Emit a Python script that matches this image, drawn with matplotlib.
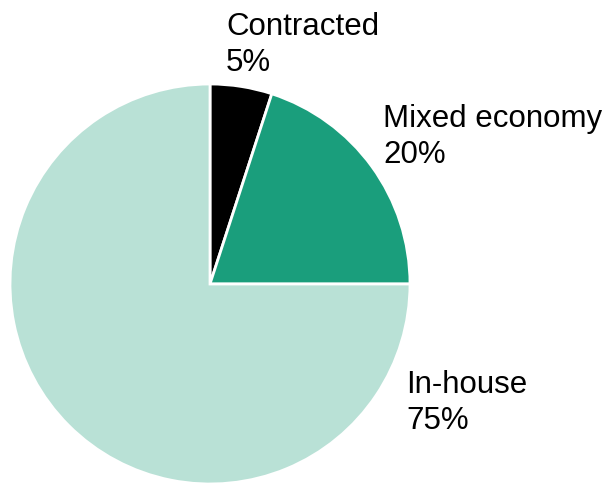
import matplotlib
matplotlib.use("Agg")
import matplotlib.pyplot as plt

categories = ["Contracted", "Mixed economy", "In-house"]
shares = [5, 20, 75]
colors = ["#000000", "#1a9e7c", "#b9e1d6"]

plt.rcParams["font.family"] = ["Liberation Sans", "DejaVu Sans"]

W, H = 608, 485
fig = plt.figure(figsize=(W / 100, H / 100), dpi=100)
ax = fig.add_axes([0, 0, 1, 1])

cx, cy, r = 210, H - 285, 200
ax.pie(shares, colors=colors, startangle=90, counterclock=False,
       center=(cx, cy), radius=r, frame=True,
       wedgeprops=dict(edgecolor="white", linewidth=2))
ax.set_xlim(0, W)
ax.set_ylim(0, H)
ax.set_aspect("equal")
ax.axis("off")

# label anchors (left edge, top of text box) in pixel units
label_pos = [(226, 12), (383, 104), (406, 370)]
for name, val, (x, y) in zip(categories, shares, label_pos):
    ax.text(x, H - y, f"{name}\n{val}%", fontsize=22.5, ha="left", va="top",
            linespacing=1.25, color="black")

fig.savefig("out.png", dpi=100)
